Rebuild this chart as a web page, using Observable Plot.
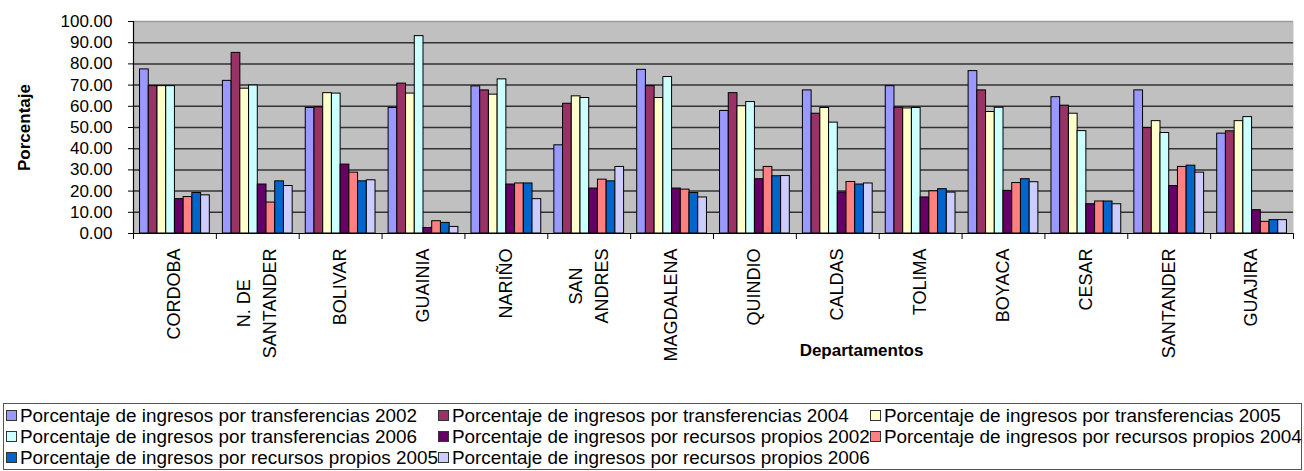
<!DOCTYPE html>
<html>
<head>
<meta charset="utf-8">
<script src="https://cdn.jsdelivr.net/npm/d3@7"></script>
<script src="https://cdn.jsdelivr.net/npm/@observablehq/plot@0.6"></script>
<style>
  body { margin: 0; background: #fff; font-family: "Liberation Sans", Arial, sans-serif; }
  #chart svg { display: block; }
  .legend {
    margin: 8px 0 0 3px;
    width: 1299px;
    border: 1px solid #555;
    display: grid;
    grid-template-columns: auto auto auto;
    justify-content: start;
    font-size: 18.9px;
    line-height: 21px;
    padding: 1px 0 1px 2px;
    color: #000;
    box-sizing: border-box;
  }
  .legend .item { white-space: nowrap; display: flex; align-items: center; }
  .legend .sw { width: 9px; height: 9px; border: 1px solid #333; margin-right: 3px; flex: none; }
</style>
</head>
<body>
<div id="chart"></div>
<div class="legend" id="legend"></div>
<script>
// Departments, in the order they are plotted
const departamentos = ["CORDOBA", "N. DE\nSANTANDER", "BOLIVAR", "GUAINIA", "NARIÑO", "SAN\nANDRES",
  "MAGDALENA", "QUINDIO", "CALDAS", "TOLIMA", "BOYACA", "CESAR", "SANTANDER", "GUAJIRA"];

// Share of income (%) for each series, one value per department
const transferencias2002 = [77.4, 72.0, 59.2, 59.2, 69.4, 41.6, 77.2, 57.8, 67.5, 69.5, 76.6, 64.3, 67.5, 47.1];
const transferencias2004 = [69.5, 85.2, 59.5, 70.7, 67.5, 61.2, 69.5, 66.2, 56.5, 59.3, 67.5, 60.3, 49.7, 48.2];
const transferencias2005 = [69.5, 68.3, 66.2, 66.0, 65.5, 64.7, 63.9, 60.0, 59.2, 59.0, 57.3, 56.5, 53.0, 53.0];
const transferencias2006 = [69.5, 69.8, 66.0, 93.1, 72.7, 63.9, 73.8, 62.0, 52.3, 59.2, 59.3, 48.3, 47.4, 54.9];
const propios2002 = [16.2, 23.1, 32.5, 2.6, 23.1, 21.2, 21.2, 25.6, 19.3, 17.0, 20.1, 13.8, 22.4, 11.0];
const propios2004 = [17.2, 14.6, 28.7, 5.8, 23.6, 25.4, 20.7, 31.4, 24.3, 19.9, 23.8, 15.1, 31.4, 5.5];
const propios2005 = [19.1, 24.6, 24.6, 5.0, 23.6, 24.6, 19.1, 27.0, 23.1, 20.9, 25.6, 15.1, 32.0, 6.3];
const propios2006 = [18.0, 22.4, 25.1, 3.1, 16.2, 31.4, 17.0, 27.1, 23.6, 19.3, 24.2, 13.8, 28.7, 6.3];

const seriesNames = [
  "Porcentaje de ingresos por transferencias 2002",
  "Porcentaje de ingresos por transferencias 2004",
  "Porcentaje de ingresos por transferencias 2005",
  "Porcentaje de ingresos por transferencias 2006",
  "Porcentaje de ingresos por recursos propios 2002",
  "Porcentaje de ingresos por recursos propios 2004",
  "Porcentaje de ingresos por recursos propios 2005",
  "Porcentaje de ingresos por recursos propios 2006"
];
const seriesValues = [transferencias2002, transferencias2004, transferencias2005, transferencias2006,
  propios2002, propios2004, propios2005, propios2006];
const seriesColors = ["#9999ff", "#993366", "#ffffcc", "#ccffff", "#660066", "#ff8080", "#0066cc", "#ccccff"];

const yTicks = d3.range(0, 101, 10);

// Clustered columns: each department occupies one unit on x; the bars share it with a
// 150% gap split evenly on both sides of the cluster.
const gapWidth = 1.5;
const slots = seriesNames.length + gapWidth;
const rows = [];
seriesNames.forEach((name, j) => {
  seriesValues[j].forEach((v, i) => {
    rows.push({
      dept: departamentos[i],
      serie: name,
      value: v,
      x1: i + (gapWidth / 2 + j) / slots,
      x2: i + (gapWidth / 2 + j + 1) / slots
    });
  });
});

const color = d3.scaleOrdinal(seriesNames, seriesColors);

const chart = Plot.plot({
  width: 1304,
  height: 395,
  marginLeft: 133,
  marginRight: 11,
  marginTop: 21,
  marginBottom: 162,
  style: { fontFamily: "'Liberation Sans', Arial, sans-serif", fontSize: "17px", color: "#000", background: "transparent" },
  x: { domain: [0, departamentos.length], ticks: departamentos.length, tickFormat: () => "", tickSize: 6, label: null },
  y: { domain: [0, 100], ticks: yTicks, tickFormat: d3.format(".2f"), tickSize: 5, tickPadding: 16, label: null },
  marks: [
    Plot.frame({ fill: "#c0c0c0" }),
    Plot.ruleY(yTicks.filter(d => d > 0 && d < 100), { stroke: "#333", strokeWidth: 1.5 }),
    Plot.ruleY([100], { stroke: "#9a9a9a", strokeWidth: 1.4 }),
    Plot.rect(rows, {
      x1: "x1", x2: "x2", y1: 0, y2: "value",
      fill: d => color(d.serie),
      stroke: "#000", strokeWidth: 1
    }),
    Plot.ruleY([0], { stroke: "#000", strokeWidth: 1.2 }),
    Plot.ruleX([0], { stroke: "#000", strokeWidth: 1.2 }),
    Plot.text(departamentos, {
      x: (d, i) => i + 0.5,
      frameAnchor: "bottom",
      text: d => d,
      rotate: -90,
      textAnchor: "end",
      lineAnchor: "middle",
      lineHeight: 1.45,
      dx: -3,
      dy: 15,
      fontSize: 18
    }),
    Plot.text(["Porcentaje"], {
      frameAnchor: "left",
      rotate: -90,
      textAnchor: "middle",
      dx: -109,
      fontWeight: "bold",
      fontSize: 17
    }),
    Plot.text(["Departamentos"], {
      frameAnchor: "bottom",
      dx: 148,
      dy: 122,
      fontWeight: "bold",
      fontSize: 17
    })
  ]
});

document.getElementById("chart").appendChild(chart);

// Two-line department names are centred within the block of their longest line
d3.select(chart).selectAll("text").each(function () {
  const spans = this.querySelectorAll("tspan");
  if (spans.length < 2) return;
  const w = d3.max(Array.from(spans), s => s.getComputedTextLength());
  this.setAttribute("text-anchor", "middle");
  spans.forEach(s => s.setAttribute("x", -w / 2));
});

// Legend
const legend = d3.select("#legend");
seriesNames.forEach((name, j) => {
  const item = legend.append("div").attr("class", "item");
  item.append("span").attr("class", "sw").style("background", seriesColors[j]);
  item.append("span").text(name);
});
</script>
</body>
</html>
